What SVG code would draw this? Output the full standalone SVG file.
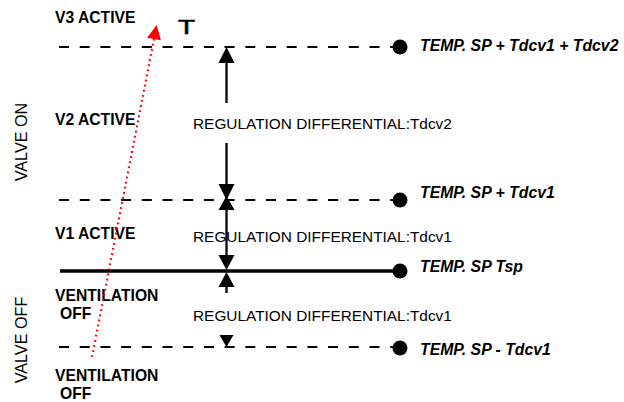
<svg xmlns="http://www.w3.org/2000/svg" width="624" height="402" viewBox="0 0 624 402">
<style>
text{font-family:"Liberation Sans",Arial,sans-serif;fill:#000}
.b{font-weight:bold;font-size:15.7px}
.r{font-size:15.4px}
.bi{font-weight:bold;font-style:italic;font-size:15.8px}
.v{font-size:16.2px}
.dash{stroke:#000;stroke-width:2;stroke-dasharray:10 10.7;fill:none}
.solid{stroke:#000;stroke-width:3.3;fill:none}
.vert{stroke:#000;stroke-width:2.3;fill:none}
.dot{fill:#000}
</style>
<rect width="624" height="402" fill="#fff"/>
<g id="levels">
<g id="level-v3"><line class="dash" x1="59" y1="47" x2="400" y2="47"/><circle class="dot" cx="400" cy="47" r="7.5"/><text class="bi" x="420" y="51">TEMP. SP + Tdcv1 + Tdcv2</text></g>
<g id="level-v1"><line class="dash" x1="59" y1="200" x2="400" y2="200"/><circle class="dot" cx="400" cy="200" r="7.5"/><text class="bi" x="420" y="198">TEMP. SP + Tdcv1</text></g>
<g id="level-sp"><line class="solid" x1="60" y1="271" x2="400" y2="271"/><circle class="dot" cx="400" cy="271" r="7.5"/><text class="bi" x="420" y="272">TEMP. SP Tsp</text></g>
<g id="level-off"><line class="dash" x1="59" y1="347" x2="400" y2="347"/><circle class="dot" cx="400" cy="348" r="7.5"/><text class="bi" x="420" y="355">TEMP. SP - Tdcv1</text></g>
</g>
<g id="labels">
<text class="b" x="55" y="23">V3 ACTIVE</text>
<text class="b" x="55" y="125">V2 ACTIVE</text>
<text class="b" x="55" y="239">V1 ACTIVE</text>
<text class="b" x="55" y="301">VENTILATION</text>
<text class="b" x="60" y="319">OFF</text>
<text class="b" x="55" y="381">VENTILATION</text>
<text class="b" x="60" y="399">OFF</text>
<text font-size="20" x="178" y="34" textLength="17" lengthAdjust="spacingAndGlyphs" stroke="#000" stroke-width="0.6">T</text>
<text class="v" text-anchor="middle" transform="translate(27,142) rotate(-90)">VALVE ON</text>
<text class="v" text-anchor="middle" transform="translate(27,340) rotate(-90)">VALVE  OFF</text>
</g>
<g id="differentials">
<text class="r" x="193" y="129">REGULATION DIFFERENTIAL:Tdcv2</text>
<text class="r" x="193" y="242">REGULATION DIFFERENTIAL:Tdcv1</text>
<text class="r" x="193" y="321">REGULATION DIFFERENTIAL:Tdcv1</text>
</g>
<g id="connectors">
<line class="vert" x1="226.5" y1="60" x2="226.5" y2="103"/>
<polygon points="226.5,47 218.5,63 234.5,63"/>
<line class="vert" x1="226.5" y1="143" x2="226.5" y2="188"/>
<polygon points="226.5,200 218.5,184 234.5,184"/>
<polygon points="226.5,196 218.5,210 234.5,210"/>
<line class="vert" x1="226.5" y1="205" x2="226.5" y2="260"/>
<polygon points="226.5,270 218.5,255 234.5,255"/>
<polygon points="226.5,272 218.5,287 234.5,287"/>
<line class="vert" x1="226.5" y1="280" x2="226.5" y2="293"/>
<polygon points="226.5,347 219.5,335 233.5,335"/>
<line x1="92" y1="357" x2="154" y2="39" stroke="#f00" stroke-width="2.2" stroke-dasharray="1.8 3.4"/>
<polygon points="156.7,25 160.9,40.3 147.1,37.7" fill="#f00"/>
</g>
</svg>
